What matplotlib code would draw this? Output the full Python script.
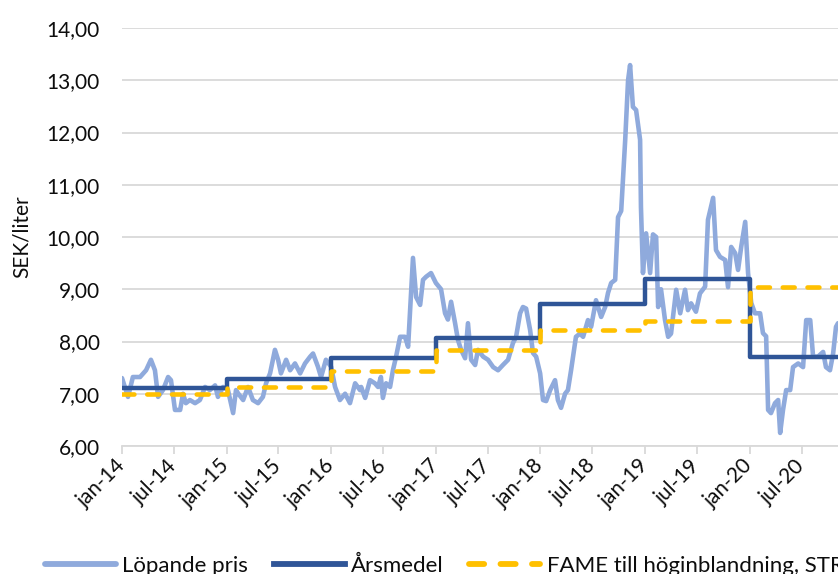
"""
Löpande pris för FAME, årsmedel och FAME till höginblandning (STR), 2014-2020.
"""

import numpy as np
import pandas as pd
import matplotlib
matplotlib.use("Agg")
import matplotlib.pyplot as plt
from matplotlib.ticker import FuncFormatter

plt.rcParams["font.family"] = ["Lato", "DejaVu Sans"]

#  Data 
price_dates = [
    "2014-01-01", "2014-01-22", "2014-02-08", "2014-03-05", "2014-03-26", "2014-04-12",
    "2014-04-26", "2014-05-07", "2014-05-24", "2014-06-11", "2014-06-21", "2014-07-05",
    "2014-07-23", "2014-08-02", "2014-08-12", "2014-08-26", "2014-09-13", "2014-09-30",
    "2014-10-18", "2014-11-04", "2014-11-22", "2014-12-02", "2014-12-20", "2015-01-06",
    "2015-01-24", "2015-02-03", "2015-02-10", "2015-02-28", "2015-03-17", "2015-04-03",
    "2015-04-21", "2015-05-08", "2015-05-19", "2015-06-02", "2015-06-19", "2015-06-30",
    "2015-07-10", "2015-07-28", "2015-08-11", "2015-08-28", "2015-09-15", "2015-10-02",
    "2015-10-20", "2015-10-30", "2015-11-16", "2015-11-27", "2015-12-14", "2016-01-01",
    "2016-01-15", "2016-02-01", "2016-02-19", "2016-03-07", "2016-03-25", "2016-04-11",
    "2016-04-15", "2016-04-29", "2016-05-16", "2016-06-02", "2016-06-13", "2016-06-23",
    "2016-06-30", "2016-07-11", "2016-07-25", "2016-08-04", "2016-08-15", "2016-08-29",
    "2016-09-15", "2016-09-26", "2016-10-03", "2016-10-13", "2016-10-24", "2016-11-07",
    "2016-11-17", "2016-11-28", "2016-12-15", "2017-01-01", "2017-01-19", "2017-02-02",
    "2017-02-12", "2017-02-23", "2017-03-09", "2017-03-19", "2017-03-30", "2017-04-13",
    "2017-04-23", "2017-05-04", "2017-05-18", "2017-05-28", "2017-06-15", "2017-07-02",
    "2017-07-20", "2017-08-06", "2017-08-23", "2017-09-10", "2017-09-27", "2017-10-08",
    "2017-10-22", "2017-11-01", "2017-11-12", "2017-11-26", "2017-12-06", "2017-12-17",
    "2017-12-31", "2018-01-10", "2018-01-21", "2018-02-04", "2018-02-21", "2018-03-03",
    "2018-03-14", "2018-03-28", "2018-04-07", "2018-04-18", "2018-05-05", "2018-05-19",
    "2018-05-30", "2018-06-16", "2018-06-27", "2018-07-14", "2018-08-01", "2018-08-15",
    "2018-08-25", "2018-09-05", "2018-09-19", "2018-09-29", "2018-10-10", "2018-10-24",
    "2018-11-03", "2018-11-10", "2018-11-20", "2018-12-01", "2018-12-15", "2018-12-18",
    "2018-12-25", "2019-01-05", "2019-01-19", "2019-01-29", "2019-02-09", "2019-02-16",
    "2019-02-26", "2019-03-12", "2019-03-23", "2019-04-02", "2019-04-20", "2019-05-04",
    "2019-05-21", "2019-05-31", "2019-06-11", "2019-06-28", "2019-07-12", "2019-07-30",
    "2019-08-09", "2019-08-27", "2019-09-06", "2019-09-20", "2019-10-08", "2019-10-18",
    "2019-10-29", "2019-11-12", "2019-11-22", "2019-12-03", "2019-12-17", "2019-12-27",
    "2020-01-07", "2020-01-20", "2020-02-07", "2020-02-17", "2020-02-28", "2020-03-06",
    "2020-03-16", "2020-03-30", "2020-04-10", "2020-04-17", "2020-04-27", "2020-05-08",
    "2020-05-22", "2020-06-01", "2020-06-19", "2020-07-06", "2020-07-17", "2020-07-31",
    "2020-08-10", "2020-08-27", "2020-09-14", "2020-09-24", "2020-10-08", "2020-10-19",
    "2020-10-29", "2020-11-05", "2020-11-20", "2020-12-10", "2020-12-28",
]
price_values = [
    7.30, 6.94, 7.32, 7.32, 7.45, 7.65,
    7.45, 6.94, 7.07, 7.32, 7.26, 6.69,
    6.69, 7.00, 6.82, 6.88, 6.82, 6.88,
    7.13, 7.07, 7.16, 6.94, 7.13, 7.07,
    6.63, 7.07, 7.01, 6.88, 7.13, 6.88,
    6.82, 6.94, 7.20, 7.39, 7.84, 7.65,
    7.39, 7.65, 7.45, 7.58, 7.39, 7.58,
    7.71, 7.77, 7.52, 7.32, 7.65, 7.52,
    7.13, 6.88, 7.00, 6.82, 7.20, 7.07,
    7.13, 6.92, 7.26, 7.20, 7.13, 7.32,
    6.92, 7.20, 7.13, 7.45, 7.71, 8.09,
    8.09, 7.90, 8.60, 9.60, 8.85, 8.70,
    9.18, 9.24, 9.31, 9.12, 9.00, 8.54,
    8.42, 8.76, 8.35, 8.03, 7.84, 7.68,
    8.35, 7.65, 7.55, 7.84, 7.71, 7.65,
    7.51, 7.45, 7.55, 7.65, 7.97, 8.09,
    8.54, 8.66, 8.63, 8.22, 7.78, 7.71,
    7.39, 6.88, 6.86, 7.07, 7.26, 6.88,
    6.73, 7.00, 7.07, 7.45, 8.09, 8.15,
    8.09, 8.41, 8.28, 8.79, 8.47, 8.66,
    8.93, 9.12, 9.18, 10.38, 10.50, 11.86,
    13.00, 13.29, 12.49, 12.43, 11.86, 10.57,
    9.31, 10.07, 9.31, 10.05, 10.00, 8.66,
    9.00, 8.41, 8.09, 8.15, 8.99, 8.54,
    8.99, 8.60, 8.73, 8.57, 8.92, 9.05,
    10.33, 10.75, 9.75, 9.62, 9.56, 9.04,
    9.81, 9.69, 9.37, 9.81, 10.29, 9.31,
    8.74, 8.54, 8.54, 8.16, 8.10, 6.69,
    6.63, 6.82, 6.88, 6.25, 6.69, 7.07,
    7.07, 7.51, 7.58, 7.51, 8.41, 8.41,
    7.71, 7.71, 7.80, 7.51, 7.45, 7.77,
    8.28, 8.35, 8.30, 8.20, 8.25,
]

years       = [2014, 2015, 2016, 2017, 2018, 2019, 2020]
annual_mean = [7.11, 7.29, 7.69, 8.07, 8.72, 9.19, 7.70]
fame_str    = [7.00, 7.13, 7.43, 7.83, 8.22, 8.39, 9.05]

labels = ["Löpande pris", "Årsmedel", "FAME till höginblandning, STR"]
COL_PRICE = "#8FAADC"
COL_MEAN  = "#2F5597"
COL_FAME  = "#FFC000"
COL_GRID  = "#D9D9D9"
COL_TEXT  = "#0d0d0d"

#  Prepare 
price_dates = pd.to_datetime(price_dates)
step_dates = pd.to_datetime([f"{y}-01-01" for y in years] + ["2020-12-31"])
mean_steps = annual_mean + [annual_mean[-1]]
fame_steps = fame_str + [fame_str[-1]]

#  Plot 
fig = plt.figure(figsize=(8.38, 5.74), dpi=100)
ax = fig.add_axes([122 / 838, 1 - 446 / 574, 1 - 122 / 838, (446 - 28) / 574])

ax.plot(price_dates, price_values, color=COL_PRICE, lw=3.3,
        solid_joinstyle="round", solid_capstyle="round", label=labels[0], zorder=2)
ax.plot(step_dates, mean_steps, color=COL_MEAN, lw=3.2, drawstyle="steps-post",
        label=labels[1], zorder=3)
ax.plot(step_dates, fame_steps, color=COL_FAME, lw=3.3, drawstyle="steps-post",
        dashes=(2.6, 2.8), dash_capstyle="round", label=labels[2], zorder=4)

ax.set_ylim(6, 14)
ax.set_yticks(np.arange(6, 15, 1))
ax.yaxis.set_major_formatter(FuncFormatter(lambda v, _: f"{v:.2f}".replace(".", ",")))
ax.set_xlim(pd.Timestamp("2014-01-01"), pd.Timestamp("2020-11-05"))

tick_dates = pd.date_range("2014-01-01", "2020-07-01", freq="6MS")
month_names = {1: "jan", 7: "jul"}
ax.set_xticks(tick_dates)
ax.set_xticklabels([f"{month_names[d.month]}-{d.strftime('%y')}" for d in tick_dates],
                   rotation=45, ha="right", va="center", rotation_mode="anchor")

ax.grid(axis="y", color=COL_GRID, lw=1.3)
ax.set_axisbelow(True)
for side in ["top", "right", "left"]:
    ax.spines[side].set_visible(False)
ax.spines["bottom"].set_color(COL_GRID)
ax.spines["bottom"].set_linewidth(1.3)
ax.tick_params(axis="y", length=0, pad=16, labelsize=15, labelcolor=COL_TEXT)
ax.tick_params(axis="x", length=6, width=1.3, color=COL_GRID, pad=6,
               labelsize=15, labelcolor=COL_TEXT)

fig.text(22 / 838, 1 - 237 / 574, "SEK/liter", rotation=90, ha="center", va="center",
         fontsize=15, color=COL_TEXT)

leg = fig.legend(loc="center left", bbox_to_anchor=(45 / 838, 1 - 566 / 574), ncol=3,
                 frameon=False, fontsize=16, handlelength=3.2, handletextpad=0.28,
                 columnspacing=1.15, borderpad=0, borderaxespad=0)
for text in leg.get_texts():
    text.set_color(COL_TEXT)
for line in leg.get_lines():
    line.set_linewidth(4.2)

plt.savefig("out.png", dpi=100)
